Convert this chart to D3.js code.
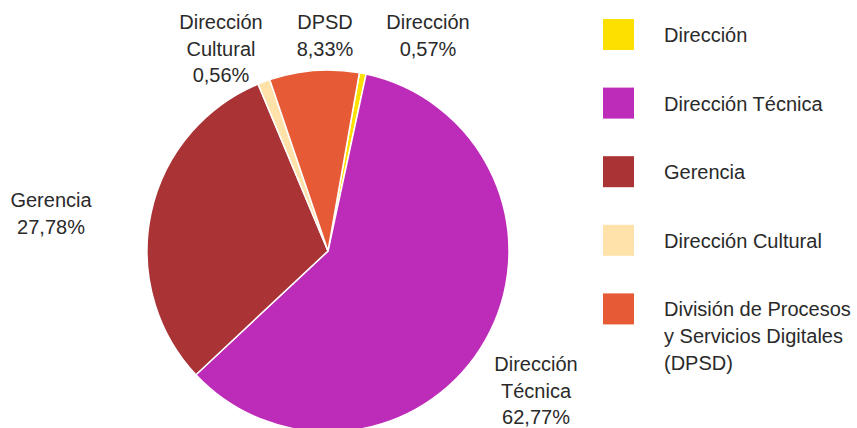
<!DOCTYPE html>
<html>
<head>
<meta charset="utf-8">
<script src="https://cdn.jsdelivr.net/npm/d3@7"></script>
<style>
  body { margin: 0; background: #fff; }
  text { font-family: "Liberation Sans", Arial, sans-serif; fill: #2a2a2a; }
</style>
</head>
<body>
<div id="pie"></div>
<script>
// data
var categories = ["Dirección", "Dirección Técnica", "Gerencia", "Dirección Cultural", "DPSD"];
// share of each slice as drawn in the picture
var values = [0.6, 59.7, 30.7, 1.1, 8.0];
var pctLabels = ["0,57%", "62,77%", "27,78%", "0,56%", "8,33%"];
var colors = ["#fee000", "#bd2bb9", "#a93335", "#fee2aa", "#e65b35"];
var legendLabels = [["Dirección"], ["Dirección Técnica"], ["Gerencia"], ["Dirección Cultural"],
                    ["División de Procesos", "y Servicios Digitales", "(DPSD)"]];
var sliceLabels = [["Dirección"], ["Dirección", "Técnica"], ["Gerencia"], ["Dirección", "Cultural"], ["DPSD"]];

var width = 857, height = 428;
var cx = 328, cy = 251, radius = 181;

var svg = d3.select("#pie").append("svg")
    .attr("width", width)
    .attr("height", height);

var pie = d3.pie().sort(null)
    .startAngle(10 * Math.PI / 180)
    .endAngle(370 * Math.PI / 180);
var arc = d3.arc().innerRadius(0).outerRadius(radius);

var g = svg.append("g").attr("transform", "translate(" + cx + "," + cy + ")");

g.selectAll("path")
    .data(pie(values))
  .enter().append("path")
    .attr("d", arc)
    .style("fill", function(d, i) { return colors[i]; })
    .style("stroke", "#fff")
    .style("stroke-width", 1.5);

// label anchors (x centre, y of first line)
var labelPos = [[428, 22], [536, 364], [51, 200], [221, 22], [325, 22]];
var lh = 26.6;

sliceLabels.forEach(function(lines, i) {
  var t = svg.append("text")
      .attr("text-anchor", "middle")
      .style("font-size", "20px");
  lines.concat([pctLabels[i]]).forEach(function(s, j) {
    t.append("tspan")
      .attr("x", labelPos[i][0])
      .attr("y", labelPos[i][1] + j * lh)
      .attr("dy", "0.35em")
      .text(s);
  });
});

// legend
var leg = svg.append("g").attr("transform", "translate(603,19)");
var step = 68.6;
categories.forEach(function(c, i) {
  var row = leg.append("g").attr("transform", "translate(0," + (i * step) + ")");
  row.append("rect")
    .attr("width", 31)
    .attr("height", 31)
    .style("fill", colors[i]);
  var t = row.append("text").style("font-size", "20px");
  legendLabels[i].forEach(function(s, j) {
    t.append("tspan")
      .attr("x", 61)
      .attr("y", 16 + j * lh)
      .attr("dy", "0.35em")
      .text(s);
  });
});
</script>
</body>
</html>
